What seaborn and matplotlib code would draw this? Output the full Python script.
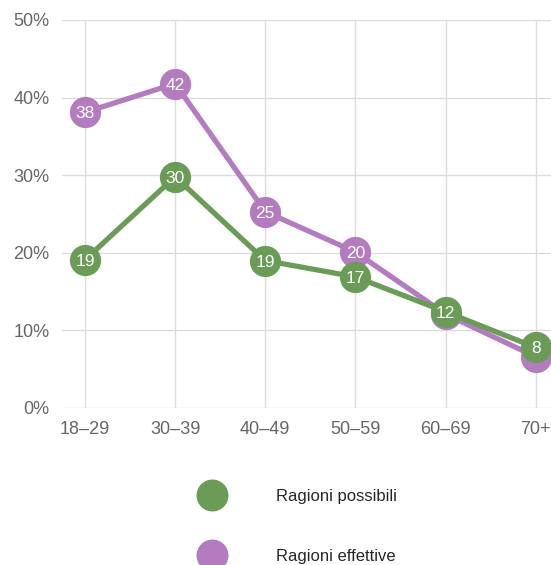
import matplotlib
matplotlib.use('Agg')
import matplotlib.pyplot as plt
import seaborn as sns
import pandas as pd
from matplotlib.lines import Line2D

# dati
eta = ['18–29', '30–39', '40–49', '50–59', '60–69', '70+']
possibili = [19.1, 29.8, 19.0, 16.9, 12.4, 7.8]
effettive = [38.1, 41.8, 25.3, 20.1, 12.1, 6.6]
etichette_possibili = ['19', '30', '19', '17', '12', '8']
# le ultime due etichette viola sono coperte dai punti verdi
etichette_effettive = ['38', '42', '25', '20', '', '']

verde = '#6a9c58'
viola = '#b27cbf'

sns.set_style('white')
plt.rcParams['font.family'] = ['Liberation Sans', 'DejaVu Sans']

df = pd.DataFrame({'eta': list(range(len(eta))) * 2,
                   'valore': effettive + possibili,
                   'serie': ['Ragioni effettive'] * len(eta) + ['Ragioni possibili'] * len(eta)})

fig = plt.figure(figsize=(5.51, 5.65), dpi=100)
ax = fig.add_axes([62 / 551, 1 - 408 / 565, 1 - 62 / 551, (408 - 20) / 565])

serie = [('Ragioni effettive', viola, etichette_effettive, 2),
         ('Ragioni possibili', verde, etichette_possibili, 4)]
for nome, colore, etichette, z in serie:
    d = df[df['serie'] == nome]
    sns.lineplot(data=d, x='eta', y='valore', color=colore, marker='o', markersize=22.5,
                 markeredgewidth=0, linewidth=3.8, ax=ax, zorder=z, clip_on=False, legend=False)
    for x, y, t in zip(d['eta'], d['valore'], etichette):
        if t:
            ax.text(x, y, t, color='white', fontsize=12.5, ha='center', va='center_baseline',
                    zorder=z + 1)

ax.set_xlim(-0.255, 5.17)
ax.set_ylim(0, 50)
ax.set_xticks(range(len(eta)))
ax.set_xticklabels(eta)
ax.set_yticks(range(0, 51, 10))
ax.set_yticklabels([f'{v}%' for v in range(0, 51, 10)])
ax.set_xlabel('')
ax.set_ylabel('')
ax.grid(True, color='#dcdcdc', linewidth=1)
for s in ax.spines.values():
    s.set_visible(False)
ax.tick_params(axis='x', length=7, color='#dcdcdc', labelsize=13, labelcolor='#666666', pad=2)
ax.tick_params(axis='y', length=0, labelsize=13, labelcolor='#666666', pad=9)

handles = [Line2D([], [], marker='o', color=verde, linestyle='', markersize=22),
           Line2D([], [], marker='o', color=viola, linestyle='', markersize=22)]
fig.legend(handles, ['Ragioni possibili', 'Ragioni effettive'], loc='upper left',
           bbox_to_anchor=(184 / 551, 1 - 474 / 565), frameon=False, fontsize=12,
           handletextpad=3.15, labelspacing=2.7, handlelength=1.5)

fig.savefig('out.png', dpi=100)
